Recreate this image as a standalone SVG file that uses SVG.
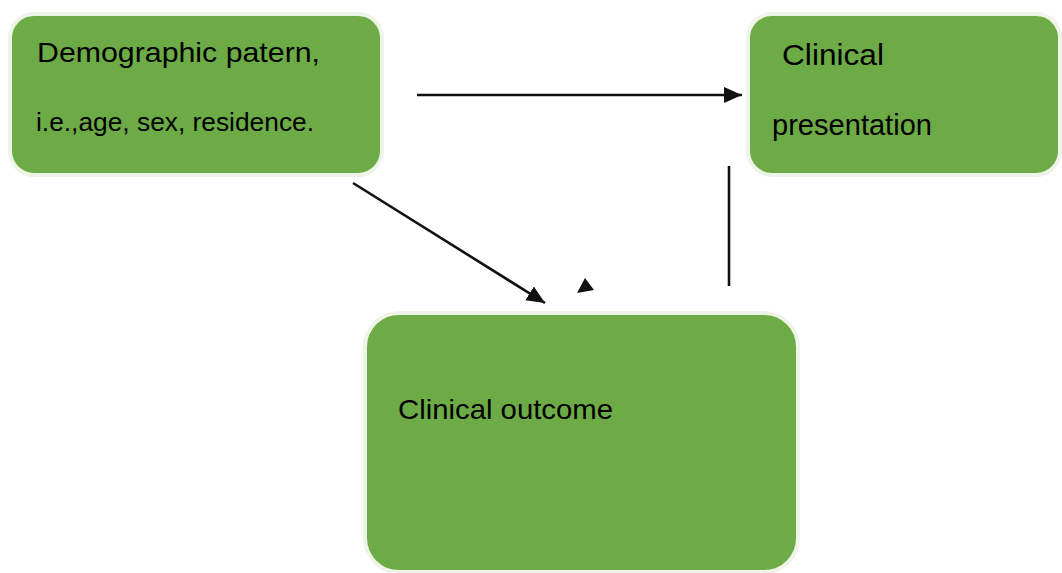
<svg xmlns="http://www.w3.org/2000/svg" width="1062" height="573" viewBox="0 0 1062 573">
  <defs>
    <style>
      .box { fill: #6dab46; stroke: #eef4e8; stroke-width: 4; }
      .lbl { font-family: "Liberation Sans", Arial, sans-serif; fill: #000; }
      .conn { stroke: #111111; stroke-width: 2.6; fill: none; }
      .head { fill: #111111; }
    </style>
    <marker id="arr" markerWidth="8" markerHeight="8" refX="7" refY="4" orient="auto" markerUnits="strokeWidth">
      <path d="M0,0.9 L7,4 L0,7.1 Z" class="head"/>
    </marker>
  </defs>
  <rect width="1062" height="573" fill="#ffffff"/>
  <g id="node-demographic">
    <rect class="box" x="10" y="14" width="372" height="161" rx="24"/>
    <text class="lbl" x="37" y="62" font-size="28" textLength="283" lengthAdjust="spacingAndGlyphs">Demographic patern,</text>
    <text class="lbl" x="36" y="131" font-size="26" textLength="278" lengthAdjust="spacingAndGlyphs">i.e.,age, sex, residence.</text>
  </g>
  <g id="node-presentation">
    <rect class="box" x="748" y="14" width="312" height="161" rx="24"/>
    <text class="lbl" x="782" y="65" font-size="30" textLength="102" lengthAdjust="spacingAndGlyphs">Clinical</text>
    <text class="lbl" x="772" y="135" font-size="29" textLength="160" lengthAdjust="spacingAndGlyphs">presentation</text>
  </g>
  <g id="node-outcome">
    <rect class="box" x="365" y="313" width="433" height="259" rx="34"/>
    <text class="lbl" x="398" y="419" font-size="28" textLength="215" lengthAdjust="spacingAndGlyphs">Clinical outcome</text>
  </g>
  <g id="connectors">
    <line class="conn" x1="417" y1="95" x2="742" y2="95" marker-end="url(#arr)"/>
    <line class="conn" x1="353" y1="183" x2="545" y2="303" marker-end="url(#arr)"/>
    <line class="conn" x1="729" y1="166" x2="729" y2="286"/>
    <polygon class="head" points="585,278 577,293 594,290"/>
  </g>
</svg>
